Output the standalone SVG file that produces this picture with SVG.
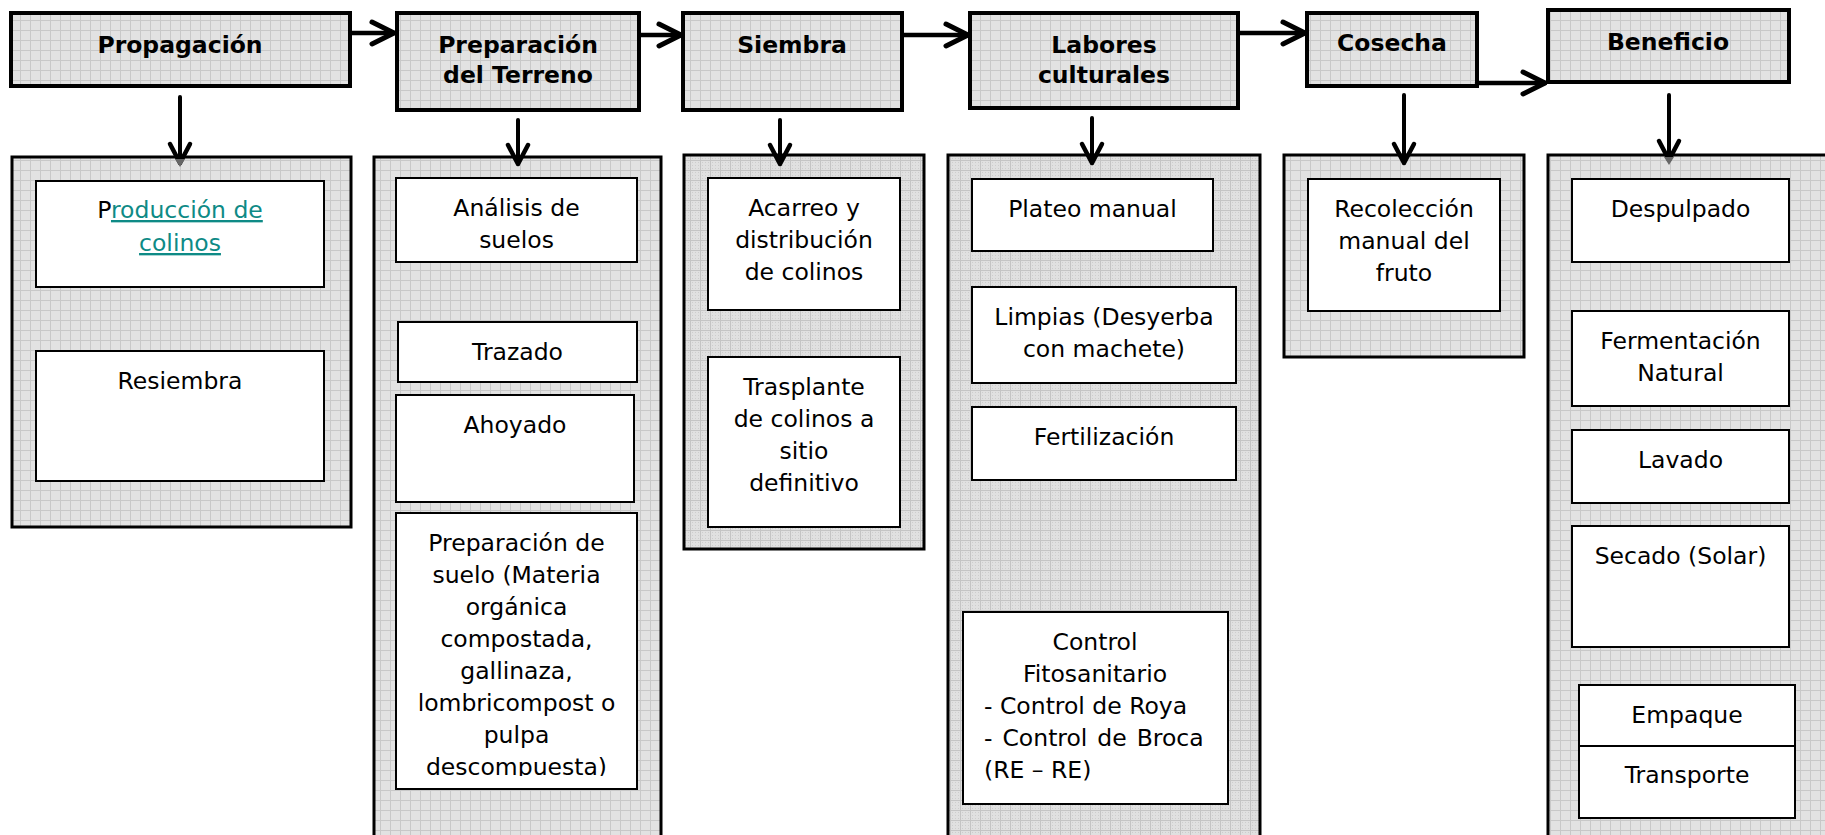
<svg xmlns="http://www.w3.org/2000/svg" width="1825" height="835" viewBox="0 0 1825 835">
<style>
.hdr{fill:url(#grid);stroke:#000;stroke-width:4}
.cont{fill:url(#grid);stroke:#000;stroke-width:3}
.cont2{fill:url(#grid2);stroke:#000;stroke-width:3}
.box{fill:#fff;stroke:#000;stroke-width:2}
.ht{font-family:"DejaVu Sans","Liberation Sans",sans-serif;font-weight:bold;font-size:23.5px;fill:#000;text-anchor:middle}
.t{font-family:"DejaVu Sans","Liberation Sans",sans-serif;font-size:23.5px;fill:#000;text-anchor:middle}
.ts{text-anchor:start}
.link{fill:#0e8a86;text-decoration:underline}
.ah{fill:none;stroke:#000;stroke-width:4.5;stroke-linecap:round}
.av{fill:none;stroke:#000;stroke-width:4;stroke-linecap:round}
</style>
<defs>
<pattern id="grid" width="10" height="10" patternUnits="userSpaceOnUse">
<rect width="10" height="10" fill="#e2e2e2"/>
<path d="M0 0.5H10M0.5 0V10" stroke="#c8c8c8" stroke-width="1"/>
</pattern>
<pattern id="grid2" width="10" height="10" patternUnits="userSpaceOnUse">
<rect width="10" height="10" fill="#e0e0e0"/>
<path d="M2 2h1v1h-1zM5 2h1v1h-1zM8 2h1v1h-1zM2 5h1v1h-1zM5 5h1v1h-1zM8 5h1v1h-1zM2 8h1v1h-1zM5 8h1v1h-1zM8 8h1v1h-1z" fill="#cdcdcd"/>
<path d="M0 0.5H10M0.5 0V10" stroke="#c4c4c4" stroke-width="1"/>
</pattern>
<marker id="mh" markerUnits="userSpaceOnUse" markerWidth="35" markerHeight="30" viewBox="-30 -15 35 30" refX="0" refY="0" orient="auto">
<path d="M-22,-11 L0,0 L-22,11" fill="none" stroke="#000" stroke-width="5" stroke-linecap="round" stroke-linejoin="round"/>
</marker>
<marker id="mv" markerUnits="userSpaceOnUse" markerWidth="35" markerHeight="30" viewBox="-30 -15 35 30" refX="0" refY="0" orient="auto">
<path d="M-19,-10 L0,0 L-19,10" fill="none" stroke="#000" stroke-width="4.5" stroke-linecap="round" stroke-linejoin="round"/>
</marker>
<clipPath id="clipSuelo"><rect x="396" y="513" width="241" height="263"/></clipPath>
</defs>

<g id="propagacion">
<rect class="hdr" x="11" y="13" width="339" height="73"/>
<text class="ht" x="180" y="53">Propagación</text>
<rect class="cont" x="12" y="157" width="339" height="370"/>
<g id="produccion-colinos">
<rect class="box" x="36" y="181" width="288" height="106"/>
<text class="t" x="180" y="218">P<tspan class="link">roducción de</tspan></text>
<text class="t" x="180" y="251"><tspan class="link">colinos</tspan></text>
</g>
<g id="resiembra">
<rect class="box" x="36" y="351" width="288" height="130"/>
<text class="t" x="180" y="389">Resiembra</text>
</g>
</g>

<g id="preparacion">
<rect class="hdr" x="397" y="13" width="242" height="97"/>
<text class="ht" x="518" y="53">Preparación</text>
<text class="ht" x="518" y="83">del Terreno</text>
<rect class="cont" x="374" y="157" width="287" height="700"/>
<g id="analisis">
<rect class="box" x="396" y="178" width="241" height="84"/>
<text class="t" x="516.5" y="216">Análisis de</text>
<text class="t" x="516.5" y="248">suelos</text>
</g>
<g id="trazado">
<rect class="box" x="398" y="322" width="239" height="60"/>
<text class="t" x="517.5" y="360">Trazado</text>
</g>
<g id="ahoyado">
<rect class="box" x="396" y="395" width="238" height="107"/>
<text class="t" x="515" y="433">Ahoyado</text>
</g>
<g id="preparacion-suelo">
<rect class="box" x="396" y="513" width="241" height="276"/>
<g clip-path="url(#clipSuelo)">
<text class="t" x="516.5" y="551">Preparación de</text>
<text class="t" x="516.5" y="583">suelo (Materia</text>
<text class="t" x="516.5" y="615">orgánica</text>
<text class="t" x="516.5" y="647">compostada,</text>
<text class="t" x="516.5" y="679">gallinaza,</text>
<text class="t" x="516.5" y="711">lombricompost o</text>
<text class="t" x="516.5" y="743">pulpa</text>
<text class="t" x="516.5" y="775">descompuesta)</text>
</g>
</g>
</g>

<g id="siembra">
<rect class="hdr" x="683" y="13" width="219" height="97"/>
<text class="ht" x="792" y="53">Siembra</text>
<rect class="cont2" x="684" y="155" width="240" height="394"/>
<g id="acarreo">
<rect class="box" x="708" y="178" width="192" height="132"/>
<text class="t" x="804" y="216">Acarreo y</text>
<text class="t" x="804" y="248">distribución</text>
<text class="t" x="804" y="280">de colinos</text>
</g>
<g id="trasplante">
<rect class="box" x="708" y="357" width="192" height="170"/>
<text class="t" x="804" y="395">Trasplante</text>
<text class="t" x="804" y="427">de colinos a</text>
<text class="t" x="804" y="459">sitio</text>
<text class="t" x="804" y="491">definitivo</text>
</g>
</g>

<g id="labores">
<rect class="hdr" x="970" y="13" width="268" height="95"/>
<text class="ht" x="1104" y="53">Labores</text>
<text class="ht" x="1104" y="83">culturales</text>
<rect class="cont2" x="948" y="155" width="312" height="700"/>
<g id="plateo">
<rect class="box" x="972" y="179" width="241" height="72"/>
<text class="t" x="1092.5" y="217">Plateo manual</text>
</g>
<g id="limpias">
<rect class="box" x="972" y="287" width="264" height="96"/>
<text class="t" x="1104" y="325">Limpias (Desyerba</text>
<text class="t" x="1104" y="357">con machete)</text>
</g>
<g id="fertilizacion">
<rect class="box" x="972" y="407" width="264" height="73"/>
<text class="t" x="1104" y="445">Fertilización</text>
</g>
<g id="control">
<rect class="box" x="963" y="612" width="265" height="192"/>
<text class="t" x="1095" y="650">Control</text>
<text class="t" x="1095" y="682">Fitosanitario</text>
<text class="t ts" x="984" y="714">- Control de Roya</text>
<text class="t ts" x="984" y="746" word-spacing="2.5">- Control de Broca</text>
<text class="t ts" x="984" y="778">(RE – RE)</text>
</g>
</g>

<g id="cosecha">
<rect class="hdr" x="1307" y="13" width="170" height="73"/>
<text class="ht" x="1392" y="51">Cosecha</text>
<rect class="cont" x="1284" y="155" width="240" height="202"/>
<g id="recoleccion">
<rect class="box" x="1308" y="179" width="192" height="132"/>
<text class="t" x="1404" y="217">Recolección</text>
<text class="t" x="1404" y="249">manual del</text>
<text class="t" x="1404" y="281">fruto</text>
</g>
</g>

<g id="beneficio">
<rect class="hdr" x="1548" y="10" width="241" height="72"/>
<text class="ht" x="1668" y="50">Beneficio</text>
<rect class="cont" x="1548" y="155" width="300" height="700"/>
<g id="despulpado">
<rect class="box" x="1572" y="179" width="217" height="83"/>
<text class="t" x="1680.5" y="217">Despulpado</text>
</g>
<g id="fermentacion">
<rect class="box" x="1572" y="311" width="217" height="95"/>
<text class="t" x="1680.5" y="349">Fermentación</text>
<text class="t" x="1680.5" y="381">Natural</text>
</g>
<g id="lavado">
<rect class="box" x="1572" y="430" width="217" height="73"/>
<text class="t" x="1680.5" y="468">Lavado</text>
</g>
<g id="secado">
<rect class="box" x="1572" y="526" width="217" height="121"/>
<text class="t" x="1680.5" y="564">Secado (Solar)</text>
</g>
<g id="empaque">
<rect class="box" x="1579" y="685" width="216" height="61"/>
<text class="t" x="1687" y="723">Empaque</text>
</g>
<g id="transporte">
<rect class="box" x="1579" y="746" width="216" height="72"/>
<text class="t" x="1687" y="783">Transporte</text>
</g>
</g>

<g id="connectors">
<line class="ah" x1="352" y1="33" x2="394" y2="33" marker-end="url(#mh)"/>
<line class="ah" x1="641" y1="35" x2="681" y2="35" marker-end="url(#mh)"/>
<line class="ah" x1="904" y1="35" x2="968" y2="35" marker-end="url(#mh)"/>
<line class="ah" x1="1240" y1="33" x2="1305" y2="33" marker-end="url(#mh)"/>
<line class="ah" x1="1477" y1="83" x2="1545" y2="83" marker-end="url(#mh)"/>
<line class="av" x1="180" y1="97" x2="180" y2="163" marker-end="url(#mv)"/>
<polygon points="175,159 185,159 180,167" fill="#666"/>
<line class="av" x1="518" y1="120" x2="518" y2="164" marker-end="url(#mv)"/>
<line class="av" x1="780" y1="120" x2="780" y2="164" marker-end="url(#mv)"/>
<line class="av" x1="1092" y1="118" x2="1092" y2="163" marker-end="url(#mv)"/>
<line class="av" x1="1404" y1="95" x2="1404" y2="163" marker-end="url(#mv)"/>
<line class="av" x1="1669" y1="95" x2="1669" y2="160" marker-end="url(#mv)"/>
<polygon points="1664,157 1674,157 1669,165" fill="#666"/>
</g>
</svg>
